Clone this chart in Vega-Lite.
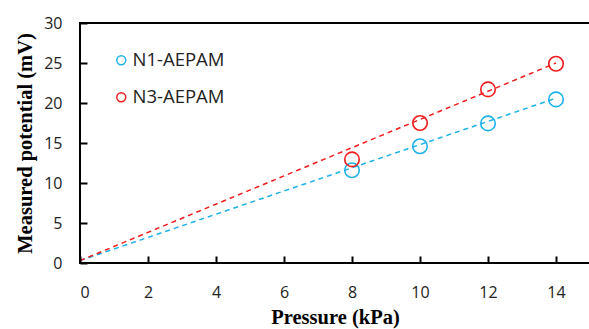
{
  "$schema": "https://vega.github.io/schema/vega-lite/v6.json",
  "autosize": "none",
  "padding": {"left": 80, "top": 23, "right": 0, "bottom": 66},
  "width": 510,
  "height": 240,
  "background": "white",
  "datasets": {
    "pts": [
      {"series": "N1-AEPAM", "pressure": 8, "potential": 11.6},
      {"series": "N1-AEPAM", "pressure": 10, "potential": 14.6},
      {"series": "N1-AEPAM", "pressure": 12, "potential": 17.45},
      {"series": "N1-AEPAM", "pressure": 14, "potential": 20.45},
      {"series": "N3-AEPAM", "pressure": 8, "potential": 12.95},
      {"series": "N3-AEPAM", "pressure": 10, "potential": 17.5},
      {"series": "N3-AEPAM", "pressure": 12, "potential": 21.7},
      {"series": "N3-AEPAM", "pressure": 14, "potential": 24.9}
    ],
    "fit": [
      {"series": "N1-AEPAM", "pressure": 0, "potential": 0.3},
      {"series": "N1-AEPAM", "pressure": 14, "potential": 20.6},
      {"series": "N3-AEPAM", "pressure": 0, "potential": 0.3},
      {"series": "N3-AEPAM", "pressure": 14, "potential": 25.0}
    ]
  },
  "config": {
    "view": {"stroke": "black", "strokeWidth": 2}
  },
  "encoding": {
    "x": {
      "field": "pressure", "type": "quantitative",
      "scale": {"domain": [0, 15], "nice": false},
      "axis": {
        "values": [0, 2, 4, 6, 8, 10, 12, 14],
        "title": "Pressure (kPa)",
        "grid": false, "domain": false, "offset": -7, "zindex": 2,
        "ticks": true, "tickColor": "#000000", "tickWidth": 2, "tickSize": 7, "tickOpacity": 1,
        "labelOverlap": false, "labelPadding": 21,
        "labelFont": "Open Sans", "labelFontSize": 16, "labelColor": "#222",
        "titleFont": "Liberation Serif", "titleFontWeight": "bold", "titleFontSize": 20.5, "titleColor": "black",
        "titlePadding": 7
      }
    },
    "y": {
      "field": "potential", "type": "quantitative",
      "scale": {"domain": [0, 30], "nice": false},
      "axis": {
        "values": [0, 5, 10, 15, 20, 25, 30],
        "title": "Measured potential (mV)",
        "grid": false, "domain": false, "offset": -7, "zindex": 2,
        "ticks": true, "tickColor": "#000000", "tickWidth": 2, "tickSize": 7, "tickOpacity": 1,
        "labelOverlap": false, "labelPadding": 18,
        "labelFont": "Open Sans", "labelFontSize": 16, "labelColor": "#222",
        "titleFont": "Liberation Serif", "titleFontWeight": "bold", "titleFontSize": 20.5, "titleColor": "black",
        "titlePadding": 8
      }
    },
    "color": {
      "field": "series", "type": "nominal",
      "scale": {"domain": ["N1-AEPAM", "N3-AEPAM"], "range": ["#1eb1ea", "#f21c1c"]},
      "legend": {
        "title": null,
        "orient": "none",
        "legendX": 32,
        "legendY": 28,
        "padding": 0,
        "symbolType": "circle",
        "symbolSize": 80,
        "symbolStrokeWidth": 1.5,
        "symbolFillColor": "white",
        "labelFont": "Open Sans",
        "labelFontSize": 18.5,
        "labelColor": "#222",
        "labelOffset": 2,
        "rowPadding": 18
      }
    }
  },
  "layer": [
    {
      "data": {"name": "fit"},
      "mark": {"type": "line", "strokeDash": [5, 4], "strokeWidth": 1.5}
    },
    {
      "data": {"name": "pts"},
      "mark": {"type": "point", "shape": "circle", "filled": false, "size": 210, "strokeWidth": 1.6, "opacity": 1}
    }
  ]
}
